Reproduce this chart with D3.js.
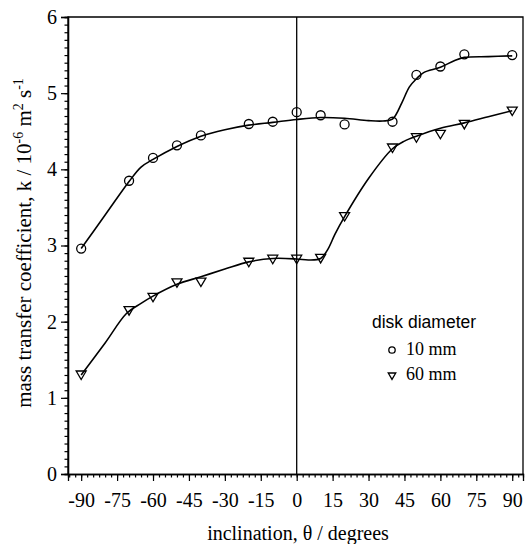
<!DOCTYPE html>
<html><head><meta charset="utf-8">
<script src="https://cdn.jsdelivr.net/npm/d3@7"></script>
<style>body{margin:0;background:#fff}</style>
</head><body>
<svg id="c" width="527" height="544"></svg>
<script>
// ---- data ----
const angles = [-90,-70,-60,-50,-40,-20,-10,0,10,20,40,50,60,70,90];
const k10mm = [2.96,3.85,4.15,4.315,4.445,4.595,4.625,4.75,4.71,4.59,4.625,5.24,5.35,5.51,5.50];
const k60mm = [1.30,2.145,2.32,2.51,2.52,2.78,2.82,2.82,2.83,3.38,4.28,4.415,4.46,4.59,4.765];
const fitAngles10 = [-90,-80,-70,-65,-60,-50,-40,-30,-20,-10,0,10,20,30,36,40,44,47,50,53,60,66,70,80,90];
const fit10mm =     [2.96,3.40,3.84,4.03,4.13,4.30,4.435,4.52,4.58,4.617,4.655,4.68,4.67,4.64,4.635,4.66,4.88,5.08,5.19,5.27,5.34,5.43,5.47,5.48,5.49];
const fitAngles60 = [-90,-80,-71,-65,-60,-50,-40,-30,-20,-10,0,5,10,13,16,20,30,40,45,50,60,70,80,90];
const fit60mm =     [1.30,1.72,2.11,2.24,2.335,2.49,2.59,2.69,2.785,2.83,2.823,2.81,2.83,2.95,3.15,3.38,3.88,4.27,4.37,4.435,4.54,4.61,4.69,4.77];
const xTickValues = [-90,-75,-60,-45,-30,-15,0,15,30,45,60,75,90];
const yTickValues = [0,1,2,3,4,5,6];
const legendTitle = "disk diameter";
const seriesNames = ["10 mm","60 mm"];

// ---- layout ----
const L = 68, R = 523, T = 17, B = 474;
const svg = d3.select("#c");
const x = d3.scaleLinear().domain([-95.5, 94.5]).range([L, R]);
const y = d3.scaleLinear().domain([0, 6]).range([B, T]);
const serif = "'Liberation Serif','Times New Roman',serif";
const sans = "'Liberation Sans',Arial,sans-serif";

// frame
svg.append("path")
  .attr("d", `M${L},${B}V${T}H${R}V${B}`)
  .attr("fill","none").attr("stroke","#000").attr("stroke-width",1.3);
// zero line
svg.append("line").attr("x1",x(0)).attr("x2",x(0)).attr("y1",T).attr("y2",B)
  .attr("stroke","#000").attr("stroke-width",1.3);

// y axis
const yMinor = d3.range(0, 60.5, 1).map(d => d/10);
const yAx = svg.append("g").attr("transform",`translate(${L},0)`)
  .call(d3.axisLeft(y).tickValues(yMinor).tickSize(3.5).tickFormat(""));
const yMaj = svg.append("g").attr("transform",`translate(${L},0)`)
  .call(d3.axisLeft(y).tickValues(yTickValues).tickSize(7).tickPadding(4).tickFormat(d3.format("d")));
// x axis
const xMinor = d3.range(-95, 93, 2.5);
const xAx = svg.append("g").attr("transform",`translate(0,${B})`)
  .call(d3.axisBottom(x).tickValues(xMinor).tickSize(3.5).tickFormat(""));
const xMaj = svg.append("g").attr("transform",`translate(0,${B})`)
  .call(d3.axisBottom(x).tickValues(xTickValues).tickSize(7).tickPadding(12).tickFormat(d3.format("d")));
[yAx,yMaj,xAx,xMaj].forEach(g => {
  g.select(".domain").attr("stroke","#000").attr("stroke-width",1.3);
  g.selectAll(".tick line").attr("stroke","#000").attr("stroke-width",1.2);
  g.selectAll(".tick text").attr("font-family",serif).attr("font-size",20).attr("fill","#000");
});
xMaj.selectAll(".tick text").text(d => d < 0 ? "-" + Math.abs(d) : d);

// axis titles
svg.append("text").attr("x", 298).attr("y", 540).attr("text-anchor","middle")
  .attr("font-family",serif).attr("font-size",20).text("inclination, θ / degrees");
const yt = svg.append("text").attr("transform","translate(31,243) rotate(-90)")
  .attr("text-anchor","middle").attr("font-family",serif).attr("font-size",21);
yt.append("tspan").text("mass transfer coefficient, k / 10");
yt.append("tspan").attr("dy",-8).attr("font-size",14).text("-6");
yt.append("tspan").attr("dy",8).text(" m");
yt.append("tspan").attr("dy",-8).attr("font-size",14).text("2");
yt.append("tspan").attr("dy",8).text(" s");
yt.append("tspan").attr("dy",-8).attr("font-size",14).text("-1");

// fit curves
const line = d3.line().x(d => x(d[0])).y(d => y(d[1])).curve(d3.curveCatmullRom.alpha(0.5));
svg.append("path").datum(d3.zip(fitAngles10, fit10mm)).attr("d", line)
  .attr("fill","none").attr("stroke","#000").attr("stroke-width",1.6);
svg.append("path").datum(d3.zip(fitAngles60, fit60mm)).attr("d", line)
  .attr("fill","none").attr("stroke","#000").attr("stroke-width",1.6);

// markers
const tri = (s) => `M${-5*s},${-4*s}L${5*s},${-4*s}L0,${4.5*s}Z`;
svg.append("g").selectAll("circle").data(d3.zip(angles, k10mm)).join("circle")
  .attr("cx", d => x(d[0])).attr("cy", d => y(d[1])).attr("r", 4.5)
  .attr("fill","none").attr("stroke","#000").attr("stroke-width",1.3);
svg.append("g").selectAll("path").data(d3.zip(angles, k60mm)).join("path")
  .attr("transform", d => `translate(${x(d[0])},${y(d[1])})`).attr("d", tri(1))
  .attr("fill","none").attr("stroke","#000").attr("stroke-width",1.3);

// legend
svg.append("text").attr("x",372).attr("y",328).attr("font-family",sans).attr("font-size",17.5)
  .text(legendTitle);
svg.append("circle").attr("cx",392).attr("cy",350).attr("r",3.2)
  .attr("fill","none").attr("stroke","#000").attr("stroke-width",1.3);
svg.append("text").attr("x",406).attr("y",355).attr("font-family",serif).attr("font-size",18).text(seriesNames[0]);
svg.append("path").attr("transform","translate(392,376)").attr("d", tri(0.75))
  .attr("fill","none").attr("stroke","#000").attr("stroke-width",1.3);
svg.append("text").attr("x",406).attr("y",380).attr("font-family",serif).attr("font-size",18).text(seriesNames[1]);
</script>
</body></html>
